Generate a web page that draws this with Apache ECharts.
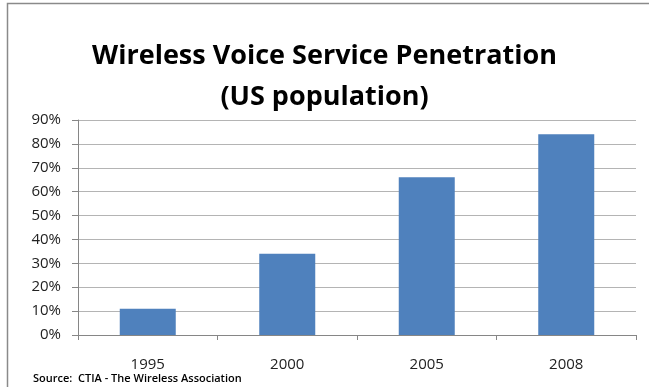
<!DOCTYPE html>
<html>
<head>
<meta charset="utf-8">
<script src="https://cdn.jsdelivr.net/npm/echarts@6/dist/echarts.min.js"></script>
<style>
html, body { margin: 0; padding: 0; background: #fff; }
#chart { width: 649px; height: 387px; }
</style>
</head>
<body>
<div id="chart"></div>
<script>
var years = ['1995', '2000', '2005', '2008'];
var penetration = [11, 34, 66, 84];
var yTicks = [0, 10, 20, 30, 40, 50, 60, 70, 80, 90];

var myChart = echarts.init(document.getElementById('chart'));
var option = {
	animation: false,
	title: {
		text: 'Wireless Voice Service Penetration\n(US population)',
		left: 'center',
		top: 31,
		textStyle: {
			fontFamily: 'Open Sans',
			fontSize: 27,
			fontWeight: 'bold',
			color: '#000',
			lineHeight: 41
		}
	},
	graphic: [{
		type: 'rect',
		shape: { x: 7.5, y: 3.5, width: 700, height: 500 },
		style: { fill: 'none', stroke: '#8a8a8a', lineWidth: 1.5 }
	}, {
		type: 'text',
		left: 33,
		top: 373,
		style: {
			text: 'Source:  CTIA - The Wireless Association',
			fontFamily: 'Open Sans',
			fontSize: 11,
			fontWeight: 600,
			fill: '#000'
		}
	}],
	grid: {
		left: 78,
		right: 13,
		top: 120,
		bottom: 52
	},
	xAxis: {
		type: 'category',
		data: years,
		axisLine: { lineStyle: { color: '#868686', width: 1 } },
		axisTick: { show: true, alignWithLabel: false, length: 5, lineStyle: { color: '#868686' } },
		axisLabel: {
			margin: 22,
			fontFamily: 'Open Sans',
			fontSize: 15,
			color: '#222'
		}
	},
	yAxis: {
		type: 'value',
		min: 0,
		max: yTicks[yTicks.length - 1],
		interval: 10,
		axisLine: { show: true, lineStyle: { color: '#868686', width: 1 } },
		axisTick: { show: true, length: 6, lineStyle: { color: '#868686' } },
		axisLabel: {
			margin: 17,
			fontFamily: 'Open Sans',
			fontSize: 15,
			color: '#222',
			formatter: '{value}%'
		},
		splitLine: { lineStyle: { color: '#b4b4b4', width: 1 } }
	},
	series: [{
		type: 'bar',
		data: penetration,
		barWidth: 56,
		itemStyle: { color: '#4f81bd' }
	}]
};
myChart.setOption(option);
</script>
</body>
</html>
